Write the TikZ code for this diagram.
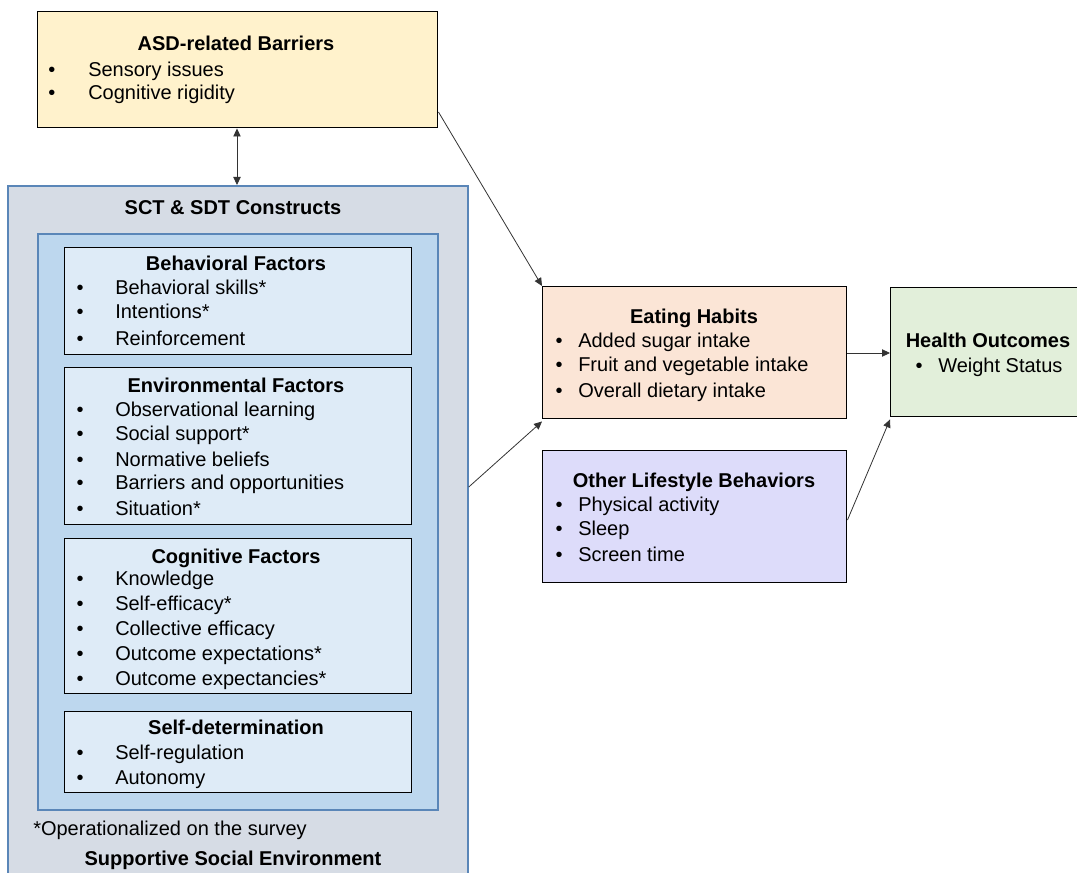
\documentclass[tikz,border=0pt]{standalone}
\usepackage{fontspec}
\setmainfont{Liberation Sans}
\usetikzlibrary{arrows.meta}
\definecolor{asdfill}{HTML}{FFF2CC}
\definecolor{sctfill}{HTML}{D6DCE5}
\definecolor{sctline}{HTML}{5A86B8}
\definecolor{innerfill}{HTML}{BDD7EE}
\definecolor{innerline}{HTML}{5A86B8}
\definecolor{factfill}{HTML}{DEEBF7}
\definecolor{eatfill}{HTML}{FBE5D6}
\definecolor{healthfill}{HTML}{E2EFDA}
\definecolor{otherfill}{HTML}{DDDCFA}
\tikzset{
  box/.style={draw=black, line width=1.1pt, inner sep=0pt},
  title/.style={font=\fontsize{15}{18}\selectfont\bfseries, anchor=base, inner sep=0pt},
  itemtxt/.style={font=\fontsize{15}{18}\selectfont, anchor=base west, inner sep=0pt},
  bul/.style={font=\fontsize{15}{18}\selectfont, anchor=base, inner sep=0pt},
  conn/.style={draw=black!80, line width=0.6pt, -{Triangle[length=6pt,width=5.5pt]}},
}
% \itm{name}{bullet x}{text x}{y}{text}
\newcommand\itm[5]{%
  \node[bul] (#1b) at (#2,#4+7) {\textbullet};
  \node[itemtxt] (#1) at (#3,#4+7) {#5};}
\newcommand\ttl[4]{\node[title] (#1) at (#2,#3+7) {#4};}
\begin{document}
\begin{tikzpicture}[x=0.75pt,y=-0.75pt]
\useasboundingbox (0,0) rectangle (1077,873);
% ASD box
\node[box, fill=asdfill, fit/.style={}, minimum width=400*0.75pt, minimum height=116*0.75pt, anchor=north west] (asd) at (37,11) {};
\ttl{asdt}{236}{44}{ASD-related Barriers}
\itm{asd1}{52}{88}{70}{Sensory issues}
\itm{asd2}{52}{88}{93}{Cognitive rigidity}
% SCT outer
\node[draw=sctline, line width=1.3pt, fill=sctfill, minimum width=460*0.75pt, minimum height=700*0.75pt, anchor=north west, inner sep=0pt] (sct) at (7,185) {};
\ttl{sctt}{233}{208}{SCT \& SDT Constructs}
% inner
\node[draw=innerline, line width=1.3pt, fill=innerfill, minimum width=400*0.75pt, minimum height=576*0.75pt, anchor=north west, inner sep=0pt] (inner) at (37,233) {};
% Behavioral
\node[box, fill=factfill, minimum width=347*0.75pt, minimum height=107*0.75pt, anchor=north west] (beh) at (64,247) {};
\ttl{beht}{236}{264}{Behavioral Factors}
\itm{beh1}{80}{115}{288}{Behavioral skills*}
\itm{beh2}{80}{115}{312}{Intentions*}
\itm{beh3}{80}{115}{338}{Reinforcement}
% Environmental
\node[box, fill=factfill, minimum width=347*0.75pt, minimum height=157*0.75pt, anchor=north west] (env) at (64,367) {};
\ttl{envt}{236}{385}{Environmental Factors}
\itm{env1}{80}{115}{409}{Observational learning}
\itm{env2}{80}{115}{433}{Social support*}
\itm{env3}{80}{115}{459}{Normative beliefs}
\itm{env4}{80}{115}{482}{Barriers and opportunities}
\itm{env5}{80}{115}{508}{Situation*}
% Cognitive
\node[box, fill=factfill, minimum width=347*0.75pt, minimum height=155*0.75pt, anchor=north west] (cog) at (64,538) {};
\ttl{cogt}{236}{556}{Cognitive Factors}
\itm{cog1}{80}{115}{578}{Knowledge}
\itm{cog2}{80}{115}{603}{Self-efficacy*}
\itm{cog3}{80}{115}{628}{Collective efficacy}
\itm{cog4}{80}{115}{653}{Outcome expectations*}
\itm{cog5}{80}{115}{678}{Outcome expectancies*}
% Self-determination
\node[box, fill=factfill, minimum width=347*0.75pt, minimum height=81*0.75pt, anchor=north west] (sdt) at (64,711) {};
\ttl{sdtt}{236}{727}{Self-determination}
\itm{sdt1}{80}{115}{752}{Self-regulation}
\itm{sdt2}{80}{115}{777}{Autonomy}
% footnotes
\node[itemtxt] (foot) at (33,828+7) {*Operationalized on the survey};
\ttl{sse}{233}{858}{Supportive Social Environment}
% Eating habits
\node[box, fill=eatfill, minimum width=304*0.75pt, minimum height=132*0.75pt, anchor=north west] (eat) at (542,286) {};
\ttl{eatt}{694}{317}{Eating Habits}
\itm{eat1}{559}{578}{341}{Added sugar intake}
\itm{eat2}{559}{578}{364}{Fruit and vegetable intake}
\itm{eat3}{559}{578}{390}{Overall dietary intake}
% Other lifestyle
\node[box, fill=otherfill, minimum width=304*0.75pt, minimum height=132*0.75pt, anchor=north west] (oth) at (542,450) {};
\ttl{otht}{694}{480}{Other Lifestyle Behaviors}
\itm{oth1}{559}{578}{504}{Physical activity}
\itm{oth2}{559}{578}{528}{Sleep}
\itm{oth3}{559}{578}{554}{Screen time}
% Health outcomes
\node[box, fill=healthfill, minimum width=198*0.75pt, minimum height=129*0.75pt, anchor=north west] (hlt) at (890,287) {};
\ttl{hltt}{988}{341}{Health Outcomes}
\itm{hlt1}{919}{938}{366}{Weight Status}
% connectors
\coordinate (asdr) at (asd.north east |- 0,112);
\draw[conn] (asdr) -- (eat.north west);
\draw[line width=0.6pt, draw=black!80, {Triangle[length=6pt,width=5.5pt]}-{Triangle[length=6pt,width=5.5pt]}] (asd.south -| 237,0) -- (sct.north -| 237,0);
\coordinate (sctr) at (sct.east |- 0,487);
\draw[conn] (sctr) -- ([yshift=-2*0.75pt]eat.south west);
\draw[conn] (eat.east |- 0,353) -- (hlt.west |- 0,353);
\draw[conn] (oth.east |- 0,520) -- ([yshift=-2*0.75pt]hlt.south west);
\end{tikzpicture}
\end{document}
